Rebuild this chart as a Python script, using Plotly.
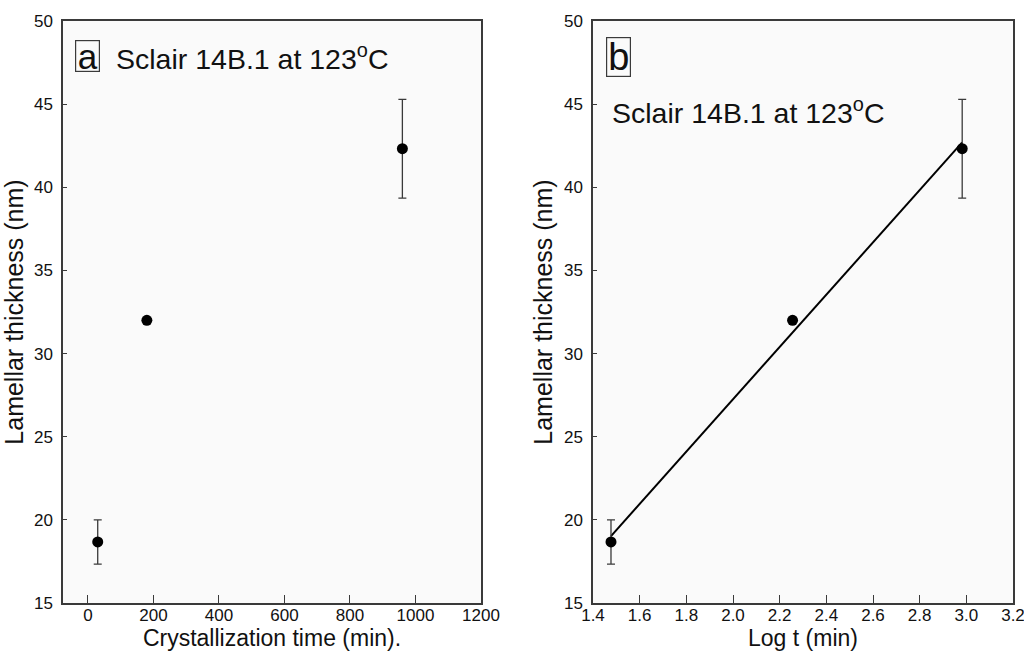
import numpy as np
import plotly.graph_objects as go
from plotly.subplots import make_subplots

# Data
time_min = [30, 180, 960]
thickness_nm = [18.67, 32.0, 42.32]
thickness_err = [1.33, 0.0, 2.97]
log_t = [float(np.log10(t)) for t in time_min]

x_ticks_a = [0, 200, 400, 600, 800, 1000, 1200]
x_ticks_b = [1.4, 1.6, 1.8, 2.0, 2.2, 2.4, 2.6, 2.8, 3.0, 3.2]
y_ticks = [15, 20, 25, 30, 35, 40, 45, 50]

# linear fit for panel b
slope, intercept = np.polyfit(log_t, thickness_nm, 1)
fit_x = [log_t[0], log_t[-1]]
fit_y = [slope * v + intercept for v in fit_x]

W, H = 1024, 654
OFF = 0  # body margin removed via post_script
FONT = "Liberation Sans, Arial, sans-serif"
INK = "#111111"
AX = "#3a3a3a"

fig = make_subplots(rows=1, cols=2)

err = dict(type="data", array=thickness_err, visible=True, color=AX, thickness=1.3, width=4)

fig.add_trace(go.Scatter(x=time_min, y=thickness_nm, mode="markers",
                         marker=dict(color="black", size=11), error_y=err,
                         showlegend=False), row=1, col=1)
fig.add_trace(go.Scatter(x=fit_x, y=fit_y, mode="lines",
                         line=dict(color="black", width=2), showlegend=False), row=1, col=2)
fig.add_trace(go.Scatter(x=log_t, y=thickness_nm, mode="markers",
                         marker=dict(color="black", size=11), error_y=err,
                         showlegend=False), row=1, col=2)

def px_x(p):
    return (p - OFF) / W

def px_y(p):
    return 1 - (p - OFF) / H

ydom = [px_y(603), px_y(21)]
axis_common = dict(showline=True, linecolor=AX, linewidth=1.5, mirror=True,
                   showgrid=False, zeroline=False, automargin=False,
                   tickfont=dict(family=FONT, size=17, color=INK),
                   ticks="inside", tickcolor=AX, ticklabeloverflow="allow")

xt_font = dict(family=FONT, size=23, color=INK)
yt_font = dict(family=FONT, size=25, color=INK)

fig.update_xaxes(**axis_common, range=[-76, 1200], tickvals=x_ticks_a, ticklen=8,
                 ticklabelstandoff=-4, domain=[px_x(63), px_x(481)],
                 title=dict(text="Crystallization time (min).", font=xt_font, standoff=2),
                 row=1, col=1)
fig.update_xaxes(**axis_common, range=[1.4, 3.2], tickvals=x_ticks_b, tickformat=".1f", ticklen=8,
                 ticklabelstandoff=-4, domain=[px_x(593), px_x(1013)],
                 title=dict(text="Log t (min)", font=xt_font, standoff=2),
                 row=1, col=2)
fig.update_yaxes(**axis_common, range=[15, 50], tickvals=y_ticks, ticklen=4, domain=ydom,
                 ticklabelstandoff=5,
                 title=dict(text="Lamellar thickness (nm)", font=yt_font, standoff=4),
                 row=1, col=1)
fig.update_yaxes(**axis_common, range=[15, 50], tickvals=y_ticks, ticklen=4, domain=ydom,
                 ticklabelstandoff=5,
                 title=dict(text="Lamellar thickness (nm)", font=yt_font, standoff=4),
                 row=1, col=2)

title_txt = "Sclair 14B.1 at 123<sup>o</sup>C"
annotations = [
    dict(text="a", x=px_x(87.5), y=px_y(56), xref="paper", yref="paper",
         xanchor="center", yanchor="middle", showarrow=False,
         font=dict(family=FONT, size=35, color=INK), width=23, height=30,
         bordercolor=AX, borderwidth=1.2, borderpad=0),
    dict(text=title_txt, x=px_x(114), y=px_y(57), xref="paper", yref="paper",
         xanchor="left", yanchor="middle", showarrow=False,
         font=dict(family=FONT, size=28.5, color=INK)),
    dict(text="b", x=px_x(618.5), y=px_y(57), xref="paper", yref="paper",
         xanchor="center", yanchor="middle", showarrow=False,
         font=dict(family=FONT, size=38, color=INK), width=23, height=38,
         bordercolor=AX, borderwidth=1.2, borderpad=0),
    dict(text=title_txt, x=px_x(610), y=px_y(111), xref="paper", yref="paper",
         xanchor="left", yanchor="middle", showarrow=False,
         font=dict(family=FONT, size=28.5, color=INK)),
]

fig.update_layout(width=W, height=H, margin=dict(l=0, r=0, t=0, b=0),
                  paper_bgcolor="white", plot_bgcolor="#fafafa",
                  annotations=annotations, showlegend=False,
                  font=dict(family=FONT, color=INK))

fig.write_html("out.html", config={"displayModeBar": False},
               post_script="document.body.style.margin='0';document.body.style.overflow='hidden';")
